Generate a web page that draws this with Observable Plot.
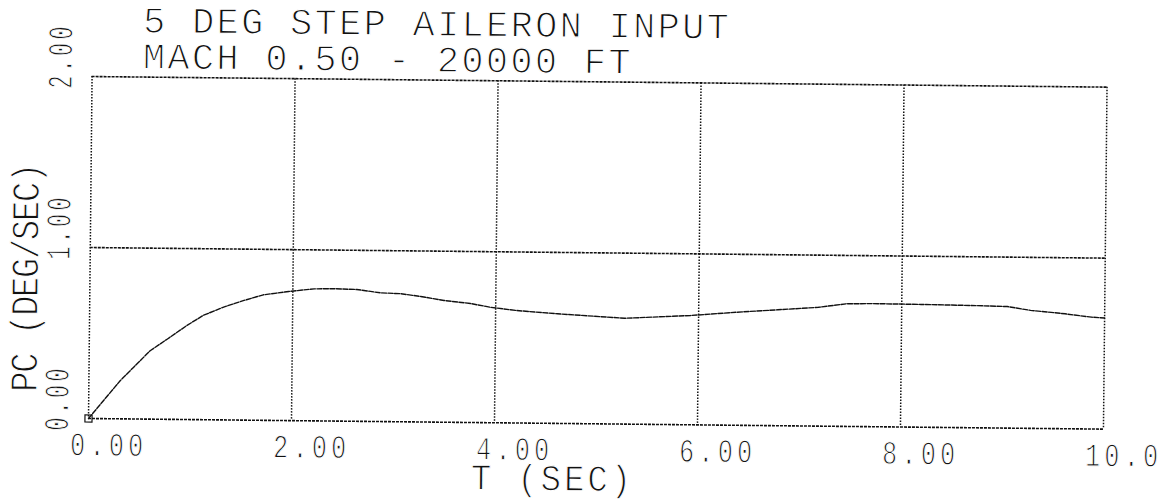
<!DOCTYPE html>
<html>
<head>
<meta charset="utf-8">
<script src="https://cdn.jsdelivr.net/npm/d3@7"></script>
<script src="https://cdn.jsdelivr.net/npm/@observablehq/plot@0.6"></script>
<style>
  body { margin: 0; background: #fff; }
  /* the whole plotter sheet sits slightly askew */
  #sheet { position: relative; width: 1166px; height: 499px; transform: rotate(0.6deg); transform-origin: 88px 418px; }
  #title { position: relative; height: 72px; font-family: "Liberation Mono", monospace; font-size: 37px;
           letter-spacing: 2.3px; color: #111; -webkit-text-stroke: 1.2px #fff; }
  #title div { position: absolute; left: 139px; line-height: 35px; white-space: pre; }
</style>
</head>
<body>
<div id="sheet">
  <div id="title"><div id="t1" style="top:5px"></div><div id="t2" style="top:41px"></div></div>
  <div id="plot"></div>
</div>
<script>
const titleLines = ["5 DEG STEP AILERON INPUT", "MACH 0.50 - 20000 FT"];
const xLabel = "T (SEC)";
const yLabel = "PC (DEG/SEC)";
const xTicks = [0, 2, 4, 6, 8, 10];
const xTickLabels = ["0.00", "2.00", "4.00", "6.00", "8.00", "10.0"];
const yTicks = [0, 1, 2];
const yTickLabels = ["0.00", "1.00", "2.00"];

// roll rate response to a 5 deg step aileron input
const time = [0, 0.12, 0.31, 0.44, 0.60, 0.77, 0.96, 1.12, 1.32, 1.52, 1.71, 1.96, 2.21, 2.40, 2.63,
              2.86, 3.06, 3.26, 3.49, 3.75, 3.95, 4.20, 4.61, 5.27, 5.92, 6.37, 6.78, 7.18, 7.45,
              7.70, 8.19, 8.68, 9.04, 9.27, 9.61, 9.87, 10.0];
const rollRate = [0, 0.087, 0.224, 0.303, 0.40, 0.47, 0.55, 0.61, 0.66, 0.70, 0.734, 0.755, 0.772, 0.774, 0.771,
                  0.753, 0.749, 0.734, 0.712, 0.696, 0.675, 0.658, 0.641, 0.619, 0.639, 0.661, 0.678, 0.695, 0.717,
                  0.720, 0.718, 0.715, 0.711, 0.690, 0.672, 0.654, 0.650];

document.getElementById("t1").textContent = titleLines[0];
document.getElementById("t2").textContent = titleLines[1];

const data = time.map((t, i) => ({t, p: rollRate[i]}));
const ink = "#111";
const font = "Liberation Mono";

const chart = Plot.plot({
  width: 1166,
  height: 427,
  marginTop: 4,
  marginBottom: 81,
  marginLeft: 88,
  marginRight: 63,
  x: {domain: [0, 10], axis: null},
  y: {domain: [0, 2], axis: null},
  style: {overflow: "visible", background: "transparent", fontFamily: font},
  marks: [
    Plot.ruleX(xTicks, {x: d => d, stroke: ink, strokeWidth: 1.5, strokeDasharray: "1.5,1.5"}),
    Plot.ruleY(yTicks, {y: d => d, stroke: ink, strokeWidth: 1.6, strokeDasharray: "3,1"}),
    Plot.line(data, {x: "t", y: "p", stroke: ink, strokeWidth: 1.4, strokeDasharray: "5,1.5"}),
    Plot.dot(data.slice(0, 1), {x: "t", y: "p", symbol: "square", r: 4, stroke: ink, strokeWidth: 1.2, fill: "none"}),
    Plot.text(xTicks, {x: d => d, text: (d, i) => xTickLabels[i], frameAnchor: "bottom", lineAnchor: "bottom",
      textAnchor: "start", dx: -18, dy: 37, fontSize: 33, fill: ink}),
    Plot.text([xLabel], {x: [4], text: d => d, frameAnchor: "bottom", lineAnchor: "bottom",
      textAnchor: "start", dx: -23, dy: 67, fontSize: 37, fill: ink}),
    Plot.text(yTicks, {y: d => d, text: (d, i) => yTickLabels[i], frameAnchor: "left", rotate: -90,
      textAnchor: "start", lineAnchor: "middle", dx: -31.5, dy: 12.5, fontSize: 35, fill: ink}),
    Plot.text([yLabel], {text: d => d, frameAnchor: "bottom-left", rotate: -90,
      textAnchor: "start", lineAnchor: "middle", dx: -64.5, dy: -26, fontSize: 39, fill: ink})
  ]
});

// narrow plotter lettering: squeeze each label along its baseline and thin the strokes
const lettering = [
  {squeeze: 0.76, spacing: 5.6},   // x tick labels
  {squeeze: 0.92, spacing: 3.1},   // x axis label
  {squeeze: 0.63, spacing: 4.9},   // y tick labels
  {squeeze: 0.87, spacing: -1.6}   // y axis label
];
d3.select(chart).selectAll('g[aria-label="text"]').each(function (_, k) {
  const L = lettering[k];
  if (!L) return;
  const g = d3.select(this)
    .attr("letter-spacing", L.spacing)
    .attr("stroke", "#fff")
    .attr("stroke-width", 1.1)
    .style("paint-order", "normal");
  g.selectAll("text").attr("transform", function () {
    return `${this.getAttribute("transform") || ""} scale(${L.squeeze},1)`;
  });
});

document.getElementById("plot").appendChild(chart);
</script>
</body>
</html>
